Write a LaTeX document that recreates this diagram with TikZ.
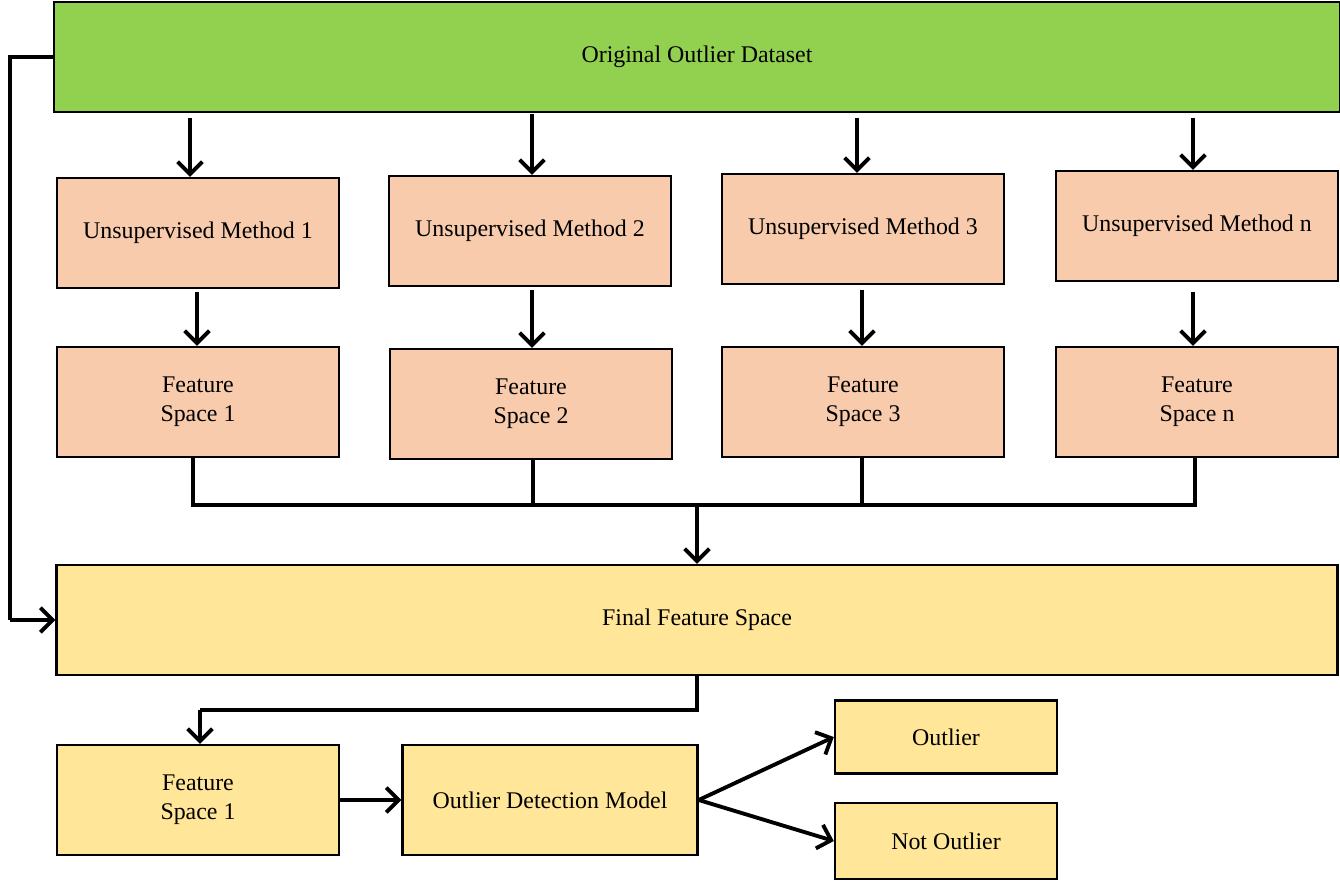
\documentclass[tikz,border=0pt]{standalone}
\usepackage{fontspec}
\setmainfont{Liberation Serif}
\usetikzlibrary{arrows.meta}

\definecolor{dsgreen}{HTML}{92D050}
\definecolor{mpeach}{HTML}{F8CBAD}
\definecolor{fyellow}{HTML}{FFE699}

\begin{document}
\begin{tikzpicture}
        [
        x=0.02cm, y=-0.02cm,
        box/.style={draw, line width=1.4pt, minimum width=5.64cm, minimum height=2.2cm, align=center, font=\fontsize{13.6}{16.5}\selectfont},
        method/.style={box, fill=mpeach},
        final/.style={box, fill=fyellow},
        edge/.style={->, line width=2.2pt, >={Straight Barb[length=7pt,width=14pt]}},
        wire/.style={line width=2.2pt}
        ]
    \useasboundingbox (0,0) rectangle (1340,884);
    \node[box, fill=dsgreen, minimum width=25.72cm] (data) at (697,57) {Original Outlier Dataset};
    \node[method] (m1) at (198,233) {Unsupervised Method 1};
    \node[method] (m2) at (530,231) {Unsupervised Method 2};
    \node[method] (m3) at (863,229) {Unsupervised Method 3};
    \node[method] (mn) at (1197,226) {Unsupervised Method n};
    \node[method] (f1) at (198,402) {Feature\\Space 1};
    \node[method] (f2) at (531,404) {Feature\\Space 2};
    \node[method] (f3) at (863,402) {Feature\\Space 3};
    \node[method] (fn) at (1197,402) {Feature\\Space n};
    \node[final, minimum width=25.62cm] (ffs) at (697,620) {Final Feature Space};
    \node[final] (bf1) at (198,800) {Feature\\Space 1};
    \node[final, minimum width=5.9cm] (odm) at (550,800) {Outlier Detection Model};
    \node[final, minimum width=4.44cm, minimum height=1.46cm] (out) at (946,737) {Outlier};
    \node[final, minimum width=4.44cm, minimum height=1.52cm] (nout) at (946,841) {Not Outlier};
    \coordinate (j1) at (193,505);
    \coordinate (jn) at (1195,505);
    \coordinate (jm) at (697,505);
    \coordinate (loop) at (10,57);
    \coordinate (turn) at (697,710);
    % dataset to methods
    \draw[edge] (190,118) -- (m1.north -| 190,0);
    \draw[edge] (532,114) -- (m2.north -| 532,0);
    \draw[edge] (857,118) -- (m3.north -| 857,0);
    \draw[edge] (1193,118) -- (mn.north -| 1193,0);
    % methods to feature spaces
    \draw[edge] (m1.south -| 197,0) ++(0,3) -- (f1.north -| 197,0);
    \draw[edge] (m2.south -| 532,0) ++(0,3) -- (f2.north -| 532,0);
    \draw[edge] (m3.south -| 862,0) ++(0,5) -- (f3.north -| 862,0);
    \draw[edge] (mn.south -| 1193,0) ++(0,10) -- (fn.north -| 1193,0);
    % collect
    \draw[wire] (f1.south -| j1) -- (j1) -- (jn) -- (fn.south -| jn);
    \draw[wire] (f2.south -| 533,0) -- (533,505);
    \draw[wire] (f3.south -| 862,0) -- (862,505);
    \draw[edge] (jm) -- (ffs.north -| jm);
    % bypass
    \draw[wire] (data.west |- loop) -- (loop) -- (loop |- ffs.west);
    \draw[edge] (loop |- ffs.west) -- (ffs.west);
    % final to model
    \draw[wire] (ffs.south -| turn) -- (turn) -- (200,710);
    \draw[edge] (200,710) -- (bf1.north -| 200,0);
    \draw[edge] (bf1.east) -- (odm.west);
    \draw[edge] (odm.east) -- (out.west);
    \draw[edge] (odm.east) -- (nout.west);
    \end{tikzpicture}
\end{document}
